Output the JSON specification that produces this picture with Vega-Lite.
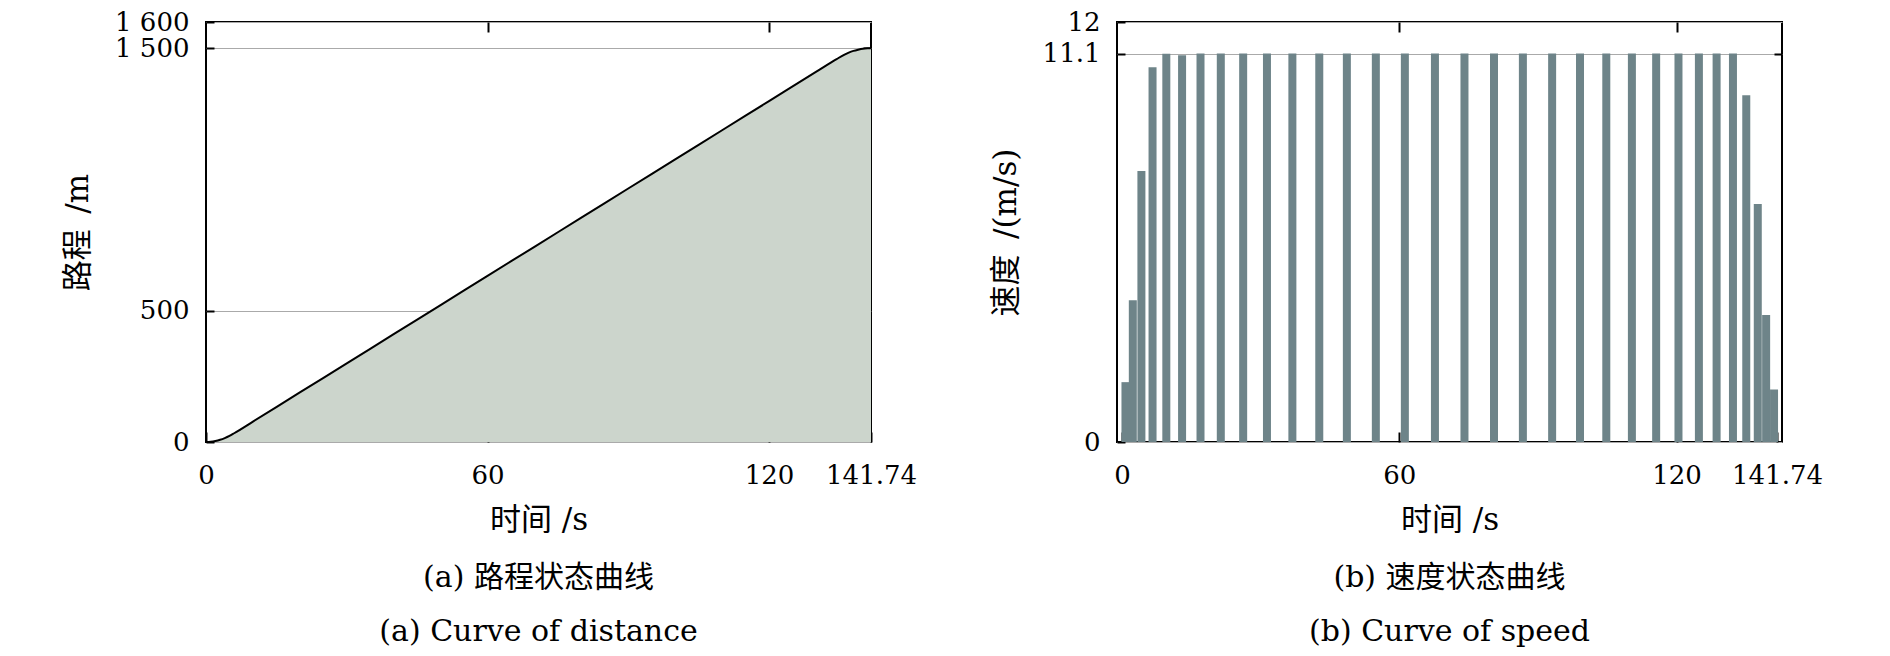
{
  "$schema": "https://vega.github.io/schema/vega-lite/v6.json",
  "background": "white",
  "padding": {"left": 61, "top": 8, "right": 5, "bottom": 0},
  "config": {
    "font": "DejaVu Serif, Noto Sans CJK SC",
    "view": {"stroke": "black", "strokeWidth": 2},
    "axis": {
      "domain": false,
      "labelFont": "DejaVu Serif, Noto Sans CJK SC",
      "titleFont": "DejaVu Serif, Noto Sans CJK SC",
      "labelFontSize": 26,
      "titleFontSize": 31,
      "titleFontWeight": "normal",
      "labelColor": "black",
      "titleColor": "black",
      "tickColor": "black",
      "tickWidth": 2,
      "labelFlush": false,
      "labelOverlap": false,
      "gridColor": "#aaaaaa",
      "gridWidth": 1.2,
      "gridOpacity": 1
    },
    "title": {"font": "DejaVu Serif, Noto Sans CJK SC", "fontSize": 30, "fontWeight": "normal", "color": "black", "lineHeight": 54}
  },
  "spacing": 71,
  "hconcat": [
    {
      "width": 665,
      "height": 420,
      "title": {"text": ["(a) 路程状态曲线", "(a) Curve of distance"], "orient": "bottom", "offset": 28},
      "data": {"values": [
        {"t": 0, "s": 0}, {"t": 1, "s": 0.9}, {"t": 2, "s": 3.7}, {"t": 3, "s": 8.3}, {"t": 4, "s": 14.8},
        {"t": 5, "s": 23.1}, {"t": 6, "s": 33.3}, {"t": 10, "s": 77.7}, {"t": 20, "s": 188.7}, {"t": 30, "s": 299.7},
        {"t": 40, "s": 410.7}, {"t": 50, "s": 521.7}, {"t": 60, "s": 632.7}, {"t": 70, "s": 743.7}, {"t": 80, "s": 854.7},
        {"t": 90, "s": 965.7}, {"t": 100, "s": 1076.7}, {"t": 110, "s": 1187.7}, {"t": 120, "s": 1298.7}, {"t": 130, "s": 1409.7},
        {"t": 134.4, "s": 1458.5}, {"t": 136, "s": 1475}, {"t": 137, "s": 1483.5}, {"t": 138, "s": 1490}, {"t": 139, "s": 1494.5},
        {"t": 140, "s": 1498}, {"t": 141, "s": 1499.6}, {"t": 141.74, "s": 1500}
      ]},
      "layer": [
        {
          "mark": {"type": "area", "color": "#ccd5cc", "interpolate": "monotone"},
          "encoding": {
            "x": {"field": "t", "type": "quantitative", "scale": {"domain": [0, 141.74], "nice": false, "zero": false},
              "axis": {"orient": "bottom", "values": [0, 60, 120, 141.74], "labelExpr": "'' + datum.value", "tickSize": -10, "labelPadding": 30, "grid": false, "title": "时间 /s", "titlePadding": 17}},
            "y": {"field": "s", "type": "quantitative", "scale": {"domain": [0, 1600], "nice": false},
              "axis": {"orient": "left", "values": [0, 500, 1500, 1600], "labelExpr": "datum.value == 1600 ? '1 600' : datum.value == 1500 ? '1 500' : '' + datum.value", "tickSize": -8, "labelPadding": 25, "grid": true, "title": "路程\u2002/m", "titlePadding": 20}}
          }
        },
        {
          "mark": {"type": "line", "color": "black", "strokeWidth": 2, "interpolate": "monotone"},
          "encoding": {
            "x": {"field": "t", "type": "quantitative", "axis": {"orient": "top", "values": [60, 120], "labels": false, "tickSize": -10, "grid": false, "title": null}},
            "y": {"field": "s", "type": "quantitative", "axis": {"orient": "right", "values": [500, 1500], "labels": false, "tickSize": -8, "grid": false, "title": null}}
          }
        }
      ],
      "resolve": {"axis": {"x": "independent", "y": "independent"}}
    },
    {
      "width": 665,
      "height": 420,
      "title": {"text": ["(b) 速度状态曲线", "(b) Curve of speed"], "orient": "bottom", "offset": 28},
      "data": {"values": [
        {"t": 0.75, "v": 1.71}, {"t": 2.34, "v": 4.05}, {"t": 4.2, "v": 7.74}, {"t": 6.61, "v": 10.71},
        {"t": 9.59, "v": 11.09}, {"t": 13.0, "v": 11.05}, {"t": 16.99, "v": 11.1}, {"t": 21.38, "v": 11.1},
        {"t": 26.22, "v": 11.1}, {"t": 31.37, "v": 11.1}, {"t": 36.87, "v": 11.1}, {"t": 42.69, "v": 11.1},
        {"t": 48.66, "v": 11.1}, {"t": 54.93, "v": 11.1}, {"t": 61.21, "v": 11.1}, {"t": 67.72, "v": 11.1},
        {"t": 74.11, "v": 11.1}, {"t": 80.5, "v": 11.1}, {"t": 86.75, "v": 11.1}, {"t": 93.08, "v": 11.1},
        {"t": 99.11, "v": 11.1}, {"t": 104.8, "v": 11.1}, {"t": 110.34, "v": 11.1}, {"t": 115.59, "v": 11.1},
        {"t": 120.42, "v": 11.1}, {"t": 124.84, "v": 11.1}, {"t": 128.67, "v": 11.1}, {"t": 132.21, "v": 11.1},
        {"t": 135.09, "v": 9.91}, {"t": 137.58, "v": 6.8}, {"t": 139.39, "v": 3.63}, {"t": 141.1, "v": 1.5}
      ]},
      "layer": [
        {
          "mark": {"type": "bar", "color": "#6e8489", "size": 8, "clip": true},
          "encoding": {
            "x": {"field": "t", "type": "quantitative", "scale": {"domain": [0, 141.74], "nice": false, "zero": false},
              "axis": {"orient": "bottom", "values": [0, 60, 120, 141.74], "labelExpr": "'' + datum.value", "tickSize": -10, "labelPadding": 30, "grid": false, "title": "时间 /s", "titlePadding": 17}},
            "y": {"field": "v", "type": "quantitative", "scale": {"domain": [0, 12], "nice": false},
              "axis": {"orient": "left", "values": [0, 11.1, 12], "labelExpr": "'' + datum.value", "tickSize": -8, "labelPadding": 25, "grid": true, "title": "速度\u2002/(m/s)", "titlePadding": 20}}
          }
        },
        {
          "mark": {"type": "tick", "opacity": 0},
          "encoding": {
            "x": {"field": "t", "type": "quantitative", "axis": {"orient": "top", "values": [60, 120], "labels": false, "tickSize": -10, "grid": false, "title": null}},
            "y": {"field": "v", "type": "quantitative", "axis": {"orient": "right", "values": [11.1], "labels": false, "tickSize": -8, "grid": false, "title": null}}
          }
        }
      ],
      "resolve": {"axis": {"x": "independent", "y": "independent"}}
    }
  ]
}
